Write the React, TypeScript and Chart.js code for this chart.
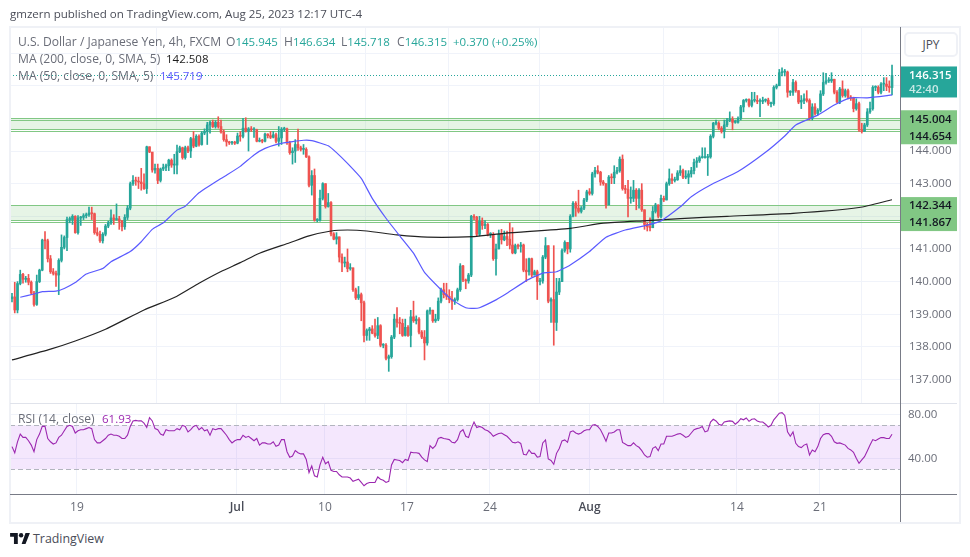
import React, { useEffect, useRef } from "react";
import { Chart, registerables } from "chart.js";

Chart.register(...registerables);

const FONT = '"Open Sans", sans-serif';
const firstOpen = 139.48;
const closes = [
  139.53,139.13,139.94,140.22,140.07,140.1,139.98,139.65,139.3,140.0,
  140.35,141.27,141.25,140.7,140.3,140.25,140.2,140.65,141.05,141.35,
  141.9,141.9,142.0,141.5,141.95,141.97,142.02,142.05,142.1,142.08,
  141.5,141.45,141.25,141.45,141.7,141.8,141.95,141.9,141.92,141.85,
  141.68,141.97,142.25,143.0,143.1,143.08,143.05,143.0,142.85,144.13,
  143.97,143.42,143.47,143.1,143.45,143.5,143.55,143.72,143.57,143.57,
  143.98,144.1,143.8,144.1,144.0,144.38,144.15,144.45,144.2,144.55,
  144.6,144.8,144.88,144.75,144.88,144.75,144.58,144.35,144.28,144.25,
  144.25,144.24,144.46,144.45,144.7,144.6,144.68,144.65,144.65,144.3,
  144.32,144.3,144.52,144.47,144.42,144.5,144.3,144.4,144.67,144.68,
  144.25,143.95,144.0,144.2,144.1,144.05,144.05,143.82,142.95,143.25,
  141.88,141.88,142.55,143.0,142.3,142.42,141.46,141.3,141.37,140.75,
  140.57,140.6,140.4,140.42,139.75,139.5,139.6,139.35,138.35,138.5,
  138.55,138.42,138.35,138.65,138.05,138.05,137.65,137.7,138.3,138.85,
  138.75,138.72,138.35,138.6,138.35,138.92,138.8,138.85,138.45,138.3,
  138.12,139.1,139.12,138.8,138.85,139.4,139.75,139.6,139.55,139.45,
  139.4,139.45,139.75,140.48,140.05,140.02,140.2,142.0,141.97,141.45,
  141.85,141.72,141.75,141.45,141.45,140.7,141.0,141.45,141.28,141.38,
  141.3,141.12,140.88,141.1,141.08,141.12,140.35,140.3,140.7,140.2,
  140.3,140.0,140.02,140.75,141.1,139.4,139.45,138.75,139.68,140.0,
  140.95,141.2,141.0,142.0,142.4,142.25,142.15,142.25,142.5,142.75,
  142.7,143.3,143.4,143.35,143.05,143.0,142.35,143.2,143.18,143.35,
  143.4,143.75,142.85,142.82,142.55,142.55,142.8,142.55,142.8,142.2,
  141.75,141.68,141.65,142.15,142.35,142.0,142.55,142.5,143.0,143.15,
  143.1,143.12,143.33,143.4,143.2,143.2,143.3,143.4,143.65,143.7,
  143.8,143.8,143.8,143.82,144.45,144.85,144.85,144.7,144.6,144.8,
  144.95,144.97,144.88,144.88,145.0,145.35,145.55,145.58,145.4,145.55,
  145.55,145.52,145.52,145.55,145.56,145.45,145.45,145.95,146.0,146.4,
  146.42,146.42,145.8,145.8,146.1,145.85,145.5,145.55,145.6,145.55,
  145.0,145.35,145.15,145.25,145.75,146.1,146.15,146.15,146.2,145.8,
  145.5,145.9,145.7,145.85,145.65,145.62,145.3,145.45,144.65,144.6,
  144.8,145.2,145.3,145.95,145.95,145.8,146.05,146.05,145.98,145.945,
  146.315,
];
const highs = [
  139.64,139.98,140.0,140.35,140.25,140.16,140.22,140.02,139.7,140.2,
  140.38,141.3,141.53,141.3,140.8,140.4,140.32,140.7,141.43,141.4,
  141.98,141.98,142.05,142.02,142.02,142.0,142.08,142.1,142.28,142.28,
  142.1,141.65,141.55,141.5,141.75,141.85,142.2,142.05,142.38,142.0,
  141.88,142.05,142.33,143.05,143.25,143.2,143.2,143.47,143.3,144.15,
  144.13,143.95,143.6,143.6,143.48,143.6,143.6,143.75,143.76,143.9,
  144.18,144.15,144.12,144.15,144.15,144.42,144.6,144.5,144.5,144.6,
  144.68,144.88,144.92,144.95,144.93,145.05,144.95,144.65,144.5,144.3,
  144.3,144.3,144.55,144.6,145.0,145.02,144.72,144.75,144.72,144.67,
  144.4,144.36,144.55,144.53,144.6,144.6,144.55,144.75,144.72,144.73,
  144.7,144.3,144.1,144.35,144.67,144.15,144.2,144.1,143.85,143.4,
  143.45,141.93,142.8,143.03,143.0,142.7,142.45,141.5,141.5,141.37,
  140.85,140.75,141.0,140.55,140.42,139.8,139.85,139.65,139.4,138.55,
  138.6,138.65,138.85,138.9,138.68,138.1,138.1,137.75,138.35,139.0,
  139.2,138.9,138.85,138.85,138.65,139.12,139.4,138.95,138.9,138.5,
  138.5,139.13,139.2,139.13,139.0,139.5,139.8,139.95,139.95,139.75,
  139.7,139.5,139.8,140.55,140.5,140.08,140.25,142.03,142.05,142.0,
  142.0,141.95,141.87,141.78,141.5,141.5,141.15,141.58,141.6,141.55,
  141.55,141.8,141.65,141.15,141.15,141.2,141.15,140.7,140.72,140.72,
  140.35,140.35,140.1,140.8,141.35,141.1,139.5,141.1,140.1,140.1,
  141.0,141.25,141.2,142.05,142.45,142.45,142.8,142.3,142.55,142.8,
  142.85,143.35,143.5,143.55,143.38,143.1,143.0,143.25,143.3,143.55,
  143.5,143.82,143.88,142.95,143.1,142.9,143.1,142.85,142.85,143.0,
  142.2,141.8,141.95,142.3,142.4,142.35,142.65,142.62,143.05,143.45,
  143.3,143.2,143.4,143.55,143.45,143.4,143.4,143.5,143.75,143.8,
  143.85,144.1,144.1,143.9,144.5,144.88,144.95,144.9,144.75,144.95,
  145.0,145.2,145.05,144.95,145.05,145.4,145.58,145.6,145.6,145.8,
  145.8,145.7,145.6,145.65,145.6,145.62,145.5,146.0,146.05,146.5,
  146.55,146.5,146.45,145.85,146.2,146.15,145.85,145.7,145.75,145.85,
  145.6,145.45,145.45,145.3,145.85,146.4,146.38,146.25,146.4,146.2,
  145.85,145.95,146.15,145.9,145.9,145.7,145.65,145.6,145.5,144.85,
  144.85,145.3,145.5,146.0,146.0,146.0,146.1,146.25,146.25,146.15,
  146.634,
];
const lows = [
  139.38,139.04,139.04,139.9,139.95,139.98,139.9,139.6,139.25,139.27,
  139.97,140.33,141.0,140.6,140.25,140.2,139.85,139.6,140.6,141.0,
  140.95,141.8,141.75,141.48,141.45,141.72,141.9,141.95,142.0,141.9,
  141.45,141.4,141.2,141.18,141.4,141.65,141.75,141.75,141.88,141.6,
  141.55,141.6,141.9,142.2,142.95,142.95,142.85,142.8,142.82,142.7,
  143.95,143.35,143.32,143.0,143.05,143.4,143.4,143.4,143.5,143.3,
  143.3,143.95,143.75,143.75,143.95,143.8,144.1,144.13,144.15,144.18,
  144.5,144.2,144.55,144.72,144.7,144.7,144.55,144.3,144.15,144.2,
  144.2,144.2,144.22,144.3,144.4,144.58,144.0,144.6,144.42,144.28,
  144.28,144.25,144.28,144.4,144.38,144.4,144.25,144.15,144.2,144.6,
  144.2,143.9,143.6,143.65,144.02,144.0,143.9,143.8,142.9,142.65,
  141.85,141.83,141.85,142.5,142.25,142.28,141.4,141.28,141.15,140.6,
  140.3,140.45,140.3,140.35,139.7,139.45,139.45,138.8,138.15,138.2,
  138.2,138.4,138.3,138.25,138.0,137.97,137.6,137.25,137.65,138.25,
  138.6,138.4,138.32,138.33,138.32,138.0,138.75,138.7,138.4,138.25,
  137.6,138.05,139.0,138.75,138.75,138.8,139.35,139.5,139.45,139.35,
  139.15,139.3,139.4,139.7,140.0,139.78,139.95,140.15,141.9,141.4,
  141.4,141.6,141.62,141.4,141.35,140.65,140.2,141.0,141.15,141.25,
  141.1,141.0,140.85,140.85,141.0,140.9,140.3,140.0,140.2,140.15,
  140.2,139.45,139.9,139.95,140.7,139.35,138.75,138.05,138.5,139.6,
  140.0,140.9,140.85,140.9,141.98,142.0,142.1,142.1,142.2,142.45,
  142.65,142.65,143.2,143.3,142.95,142.95,142.25,142.35,143.0,143.0,
  143.3,143.35,142.8,142.7,141.98,142.4,142.45,142.2,142.25,142.15,
  141.6,141.55,141.55,141.65,142.1,141.95,141.95,142.45,142.5,142.95,
  143.0,143.05,143.1,143.25,143.15,143.15,143.0,143.2,143.3,143.5,
  143.65,143.78,143.78,143.25,143.78,144.4,144.8,144.65,144.55,144.4,
  144.75,144.9,144.65,144.85,144.85,144.95,145.2,145.5,145.35,145.35,
  145.5,145.45,145.05,145.45,145.5,145.4,145.35,145.4,145.9,146.0,
  146.3,146.3,145.65,145.7,145.7,145.8,145.45,145.3,145.45,145.5,
  144.95,144.95,145.1,145.1,145.2,145.7,146.05,146.1,146.1,145.75,
  145.48,145.45,145.65,145.65,145.6,145.55,145.2,145.25,144.6,144.55,
  144.6,144.75,145.15,145.25,145.85,145.75,145.75,145.85,145.85,145.8,
  145.718,
];
const ma50Bars = [3,8,11,16,19,23,27,33,36,43,47,51,55,60,63,68,76,78,83,88,92,97,102,106,109,115,118,122,127,131,136,141,146,150,156,160,165,168,170,176,180,187,193,198,203,210,216,223,231,236,243,247,254,264,274,281,285,293,299,305,311,320];
const ma50Values = [139.52,139.62,139.69,139.71,139.79,139.97,140.23,140.4,140.61,140.92,141.22,141.6,141.8,142.19,142.31,142.72,143.16,143.26,143.53,143.88,144.08,144.22,144.29,144.33,144.32,144.16,143.95,143.62,143.16,142.55,141.94,141.4,140.87,140.28,139.75,139.44,139.2,139.18,139.2,139.44,139.64,140.03,140.26,140.3,140.51,140.92,141.36,141.58,141.73,141.86,142.29,142.6,142.96,143.37,143.96,144.46,144.8,145.1,145.41,145.63,145.63,145.719];
const ma200Bars = [0,14,23,34,48,59,68,76,83,90,101,108,116,122,129,140,151,168,179,203,215,231,243,260,284,308,320];
const ma200Values = [137.6,137.93,138.18,138.54,139.13,139.51,139.95,140.31,140.58,140.87,141.19,141.4,141.55,141.58,141.55,141.43,141.36,141.38,141.48,141.63,141.79,141.87,141.93,142.0,142.09,142.27,142.508];
const rsi = [
  50.6,45,55,62,59,59,56,52,46,57,62,69,69,58,55,53,54,59,61,65,69,70,69,63,65,66,66,67,68,67,
  57,54,54,56,58,61,62,61,61,60,58,58,61,69,74,74.5,74,74,72,68,77,74,67,66,62,61,66,65,65,65,
  67,66,70,69,64,66,69,70,66,68,65,66,61,67,66,67,67,64,61,57,54,56,57,57,61,59,60,58,56,58,
  52,54,54,53,53,55,51,52,57,57,46,41,42,47,45,44,44,39,27,33,24,23,34,41,35,37,29,28,28,25,
  23,23,23,22,19,20,21,18,15,17,18,18,18,23,21,20,18,19,34,39,38.5,38,36,39,38,45.5,45,45,44.5,41,
  38.5,37,51.5,49,51.5,58,59,58,57.5,57,54.5,54,57,64,66,60,59,67,73,68,69,68,66,65,63,60,61.5,62.5,63,61.5,
  60,57.5,54.5,54,55,53.5,43.6,43,47.6,44.5,44.5,41,41.5,54,56.7,39.4,38,34.5,44.5,49,55.8,56.7,54.5,64,65,63,62,63,65,66,
  66,70,70.6,69,66,61,55.5,63,63,64,66,66,54.5,53,51.5,51.5,54,51.5,50,47,43,41,41.5,49,50.6,47,53,53,60,60,
  60,61,62,62.5,61,59,60,63,66,67,67.5,69,64,65,73,75.5,74,71,70,73,73.6,74,73.6,71,73,76,75,76.7,73.6,75.5,
  76,74,73,73,71,68.5,70,75,78,81,81.5,79,64,60,64,53.6,50.6,49.7,52,53,43,47.6,46,50.6,58,61.5,62.4,62.4,60,55,
  53.6,54,53,52,49,47.6,45.5,40,35.5,38.5,41.5,46.7,52,57,56,57.5,58.8,58.8,58,58,61.93,
];
const timeTickBars = [23.6, 81.8, 113.8, 143.6, 173.8, 210, 263.6, 293.8];
const timeTickLabels = ["19", "Jul", "10", "17", "24", "Aug", "14", "21"];
const priceTicks = [137, 138, 139, 140, 141, 142, 143, 144, 145, 146, 147];
const priceLabelled = [137, 138, 139, 140, 141, 143, 144];
const rsiTicks = [40, 80];
const zoneUpper = [145.004, 144.654];
const zoneLower = [142.344, 141.867];
const zoneExtraLines = [144.94, 144.6, 141.8];
const lastPrice = 146.315;
const countdown = "42:40";

const UP = "#26a69a";
const DOWN = "#ef5350";
const GRID = "#f0f3fa";
const AXIS = "#787b86";
const LABEL = "#6a6d78";
const ZONE = "#81c784";

const opens = closes.map((_, i) => (i === 0 ? firstOpen : closes[i - 1]));
const barColors = closes.map((c, i) => (c >= opens[i] ? UP : DOWN));
const xMin = -0.727;
const xMax = 322.9;

const xGrid = { color: GRID, lineWidth: 1, drawTicks: false };
const setTimeTicks = (s: any) => {
  s.ticks = timeTickBars.map((value) => ({ value }));
};
const noPad = (s: any) => {
  s.paddingTop = 0;
  s.paddingBottom = 0;
  s.paddingLeft = 0;
  s.paddingRight = 0;
};

const pricePlugin = {
  id: "priceDecor",
  beforeDatasetsDraw(chart: any) {
    const { ctx, chartArea: a, scales } = chart;
    const y = scales.y;
    ctx.save();
    ctx.fillStyle = "rgba(129,199,132,0.2)";
    [zoneUpper, zoneLower].forEach(([top, bottom]) => {
      ctx.fillRect(a.left, y.getPixelForValue(top), a.right - a.left, y.getPixelForValue(bottom) - y.getPixelForValue(top));
    });
    ctx.strokeStyle = ZONE;
    ctx.lineWidth = 1;
    [...zoneUpper, ...zoneLower, ...zoneExtraLines].forEach((v) => {
      const py = Math.floor(y.getPixelForValue(v)) + 0.5;
      ctx.beginPath();
      ctx.moveTo(a.left, py);
      ctx.lineTo(a.right, py);
      ctx.stroke();
    });
    ctx.strokeStyle = UP;
    ctx.setLineDash([1, 2]);
    const ly = Math.round(y.getPixelForValue(lastPrice)) + 0.5;
    ctx.beginPath();
    ctx.moveTo(a.left, ly);
    ctx.lineTo(a.right, ly);
    ctx.stroke();
    ctx.restore();
  },
  afterDraw(chart: any) {
    const { ctx, chartArea: a, scales } = chart;
    const y = scales.y;
    const bx = a.right + 1;
    const bw = 56;
    ctx.save();
    const lp = y.getPixelForValue(lastPrice);
    ctx.fillStyle = UP;
    ctx.fillRect(bx, lp - 9, bw, 31);
    ctx.font = `600 11.5px ${FONT}`;
    ctx.textAlign = "left";
    ctx.textBaseline = "middle";
    ctx.fillStyle = "#ffffff";
    ctx.fillText(lastPrice.toFixed(3), bx + 8, lp);
    ctx.fillStyle = "rgba(255,255,255,0.75)";
    ctx.fillText(countdown, bx + 8, lp + 14.5);
    [zoneUpper, zoneLower].forEach(([top, bottom]) => {
      const t = y.getPixelForValue(top);
      ctx.fillStyle = ZONE;
      ctx.fillRect(bx, t - 8, bw, 34);
      ctx.fillStyle = "#131722";
      ctx.fillText(top.toFixed(3), bx + 8, t + 1);
      ctx.fillText(bottom.toFixed(3), bx + 8, t + 18);
    });
    ctx.restore();
  },
};

const rsiPlugin = {
  id: "rsiDecor",
  beforeDatasetsDraw(chart: any) {
    const { ctx, chartArea: a, scales } = chart;
    const y = scales.y;
    const t = y.getPixelForValue(70);
    const b = y.getPixelForValue(30);
    ctx.save();
    ctx.fillStyle = "rgba(156,39,235,0.11)";
    ctx.fillRect(a.left, t, a.right - a.left, b - t);
    ctx.strokeStyle = "#b2b5be";
    ctx.setLineDash([5, 3]);
    [t, b].forEach((py) => {
      ctx.beginPath();
      ctx.moveTo(a.left, Math.round(py) + 0.5);
      ctx.lineTo(a.right, Math.round(py) + 0.5);
      ctx.stroke();
    });
    ctx.restore();
  },
};

const abs = (left: number, top: number, extra: any = {}) => ({ position: "absolute", left, top, lineHeight: "16px", whiteSpace: "pre", ...extra });

export default function App() {
  const priceRef = useRef<HTMLCanvasElement>(null);
  const rsiRef = useRef<HTMLCanvasElement>(null);

  useEffect(() => {
    document.body.style.margin = "0";
    document.body.style.background = "#fff";
    const bodies = closes.map((c, i) => ({ x: i, y: [opens[i], c] }));
    const wicks = closes.map((_, i) => ({ x: i, y: [lows[i], highs[i]] }));
    const price = new Chart(priceRef.current!, {
      type: "bar",
      data: {
        datasets: [
          { type: "line", data: ma50Bars.map((x, i) => ({ x, y: ma50Values[i] })), borderColor: "#5a5aff", borderWidth: 1.2, pointRadius: 0, tension: 0.15, order: 1 },
          { type: "line", data: ma200Bars.map((x, i) => ({ x, y: ma200Values[i] })), borderColor: "#222222", borderWidth: 1.2, pointRadius: 0, tension: 0.2, order: 1 },
          { type: "bar", data: bodies, backgroundColor: barColors, barThickness: 2, minBarLength: 1, grouped: false, order: 2 },
          { type: "bar", data: wicks, backgroundColor: barColors, barThickness: 1, grouped: false, order: 3 },
        ],
      } as any,
      options: {
        animation: false,
        responsive: false,
        devicePixelRatio: 1,
        layout: { padding: { left: 10, top: 27, right: 0, bottom: 1 } },
        plugins: { legend: { display: false }, tooltip: { enabled: false } },
        scales: {
          x: {
            type: "linear", min: xMin, max: xMax, offset: false,
            grid: xGrid, border: { display: false },
            ticks: { display: false, autoSkip: false },
            afterBuildTicks: setTimeTicks,
            afterFit: (s: any) => { s.height = 0; noPad(s); },
          },
          y: {
            position: "right", min: 136.28, max: 147.8,
            grid: { color: GRID, drawTicks: false },
            border: { display: false },
            afterBuildTicks: (s: any) => { s.ticks = priceTicks.map((value) => ({ value })); },
            afterFit: (s: any) => { s.width = 70; noPad(s); },
            ticks: {
              autoSkip: false, padding: 9, color: LABEL,
              font: { family: FONT, size: 11.5 },
              callback: (v: any) => (priceLabelled.includes(v) ? Number(v).toFixed(3) : ""),
            },
          },
        },
      } as any,
      plugins: [pricePlugin],
    });
    const rsiChart = new Chart(rsiRef.current!, {
      type: "line",
      data: {
        datasets: [
          { data: rsi.map((y, x) => ({ x, y })), borderColor: "#9c27b0", borderWidth: 1.1, pointRadius: 0, tension: 0 },
        ],
      } as any,
      options: {
        animation: false,
        responsive: false,
        devicePixelRatio: 1,
        layout: { padding: { left: 10, top: 0, right: 0, bottom: 0 } },
        plugins: { legend: { display: false }, tooltip: { enabled: false } },
        scales: {
          x: {
            type: "linear", min: xMin, max: xMax, offset: false,
            grid: xGrid, border: { display: false },
            afterBuildTicks: setTimeTicks,
            afterFit: (s: any) => { s.height = 28; noPad(s); },
            ticks: {
              autoSkip: false, maxRotation: 0, padding: 6,
              color: (c: any) => (/[A-Z]/.test(c.tick?.label ?? "") ? "#4a4d58" : LABEL),
              font: (c: any) => ({ family: FONT, size: 12, weight: /[A-Z]/.test(c.tick?.label ?? "") ? "600" : "400" }),
              callback: (v: any) => { const i = timeTickBars.indexOf(v); return i >= 0 ? timeTickLabels[i] : ""; },
            },
          },
          y: {
            position: "right", min: 7.5, max: 89.4,
            grid: { color: GRID, drawTicks: false },
            border: { display: false },
            afterBuildTicks: (s: any) => { s.ticks = rsiTicks.map((value) => ({ value })); },
            afterFit: (s: any) => { s.width = 70; noPad(s); },
            ticks: {
              autoSkip: false, padding: 8, color: LABEL,
              font: { family: FONT, size: 11.5 },
              callback: (v: any) => Number(v).toFixed(2),
            },
          },
        },
      } as any,
      plugins: [rsiPlugin],
    });
    return () => { price.destroy(); rsiChart.destroy(); };
  }, []);

  const t: any = { fontFamily: FONT, fontSize: 12.1, color: LABEL };
  const num = { color: UP, fontSize: 11.5 };
  return (
    <div style={{ position: "relative", width: 970, height: 557, overflow: "hidden", background: "#fff", ...t }}>
      <canvas ref={priceRef} width={970} height={404} style={{ position: "absolute", left: 0, top: 0 }} />
      <canvas ref={rsiRef} width={970} height={118} style={{ position: "absolute", left: 0, top: 404 }} />
      {/* frame and separators */}
      <div style={{ position: "absolute", left: 9, top: 26, width: 948, height: 494, border: "2px solid #eff1f6", pointerEvents: "none" }} />
      <div style={{ position: "absolute", left: 10, top: 403, width: 947, height: 1, background: "#e0e3eb" }} />
      <div style={{ position: "absolute", left: 10, top: 494, width: 947, height: 1, background: AXIS }} />
      <div style={{ position: "absolute", left: 900, top: 27, width: 1, height: 495, background: AXIS }} />
      <div style={abs(10, 6, { color: "#4a4d58", fontSize: 11.55 })}>gmzern published on TradingView.com, Aug 25, 2023 12:17 UTC-4</div>
      <div style={abs(18, 34)}>U.S. Dollar / Japanese Yen, 4h, FXCM</div>
      <div style={abs(226, 34)}>O<span style={num}>145.945</span></div>
      <div style={abs(284, 34)}>H<span style={num}>146.634</span></div>
      <div style={abs(341, 34)}>L<span style={num}>145.718</span></div>
      <div style={abs(397, 34)}>C<span style={num}>146.315</span></div>
      <div style={abs(453, 34, num)}>+0.370 (+0.25%)</div>
      <div style={abs(18, 51)}>MA (200, close, 0, SMA, 5)</div>
      <div style={abs(166, 51, { color: "#1c1c1c", fontSize: 11.5 })}>142.508</div>
      <div style={abs(18, 68)}>MA (50, close, 0, SMA, 5)</div>
      <div style={abs(160, 68, { color: "#5a5aff", fontSize: 11.5 })}>145.719</div>
      <div style={abs(18, 411)}>RSI (14, close)</div>
      <div style={abs(102, 411, { color: "#9c27b0", fontSize: 11.5 })}>61.93</div>
      <div style={{ position: "absolute", left: 904, top: 32, width: 50, height: 21, border: "2px solid #eff1f6", borderRadius: 5, background: "#fff", textAlign: "center", lineHeight: "21px", color: "#4a4d58", fontFamily: FONT, fontSize: 12 }}>JPY</div>
      <svg style={{ position: "absolute", left: 10, top: 533 }} width="20" height="11" viewBox="0 0 36 20">
        <path d="M14 20H7V7H0V0h14v20z M28 20h-7L28 0h8l-8 20z" fill="#131722" />
        <circle cx="20" cy="4" r="4" fill="#131722" />
      </svg>
      <div style={abs(33, 531, { fontSize: 12.4, color: "#4a4d58" })}>TradingView</div>
    </div>
  );
}
